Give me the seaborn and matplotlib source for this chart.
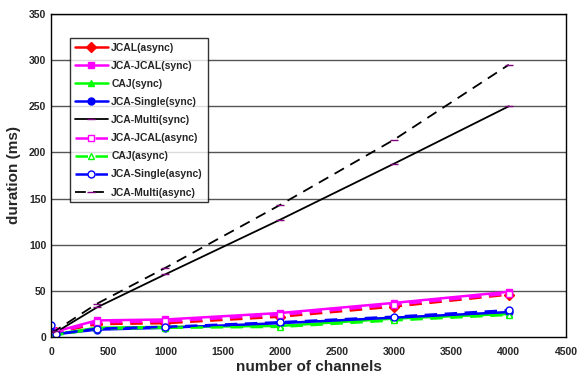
import matplotlib
matplotlib.use("Agg")
import matplotlib.pyplot as plt
import seaborn as sns
import pandas as pd

channels = [1, 40, 400, 1000, 2000, 3000, 4000]

jcal_async = [4, 5, 14, 15, 22, 33, 46]
jca_jcal_sync = [5, 6, 18, 19, 26, 37, 49]
caj_sync = [2, 3, 10, 11, 12, 20, 25]
jca_single_sync = [2, 3, 8, 10, 15, 21, 27]
jca_multi_sync = [3, 5, 32, 68, 127, 188, 250]
jca_jcal_async = [4, 5, 16, 17, 24, 35, 47]
caj_async = [1, 2, 9, 10, 11, 18, 24]
jca_single_async = [13, 3, 9, 11, 16, 22, 29]
jca_multi_async = [5, 7, 36, 75, 143, 214, 295]

series = [
    ("JCAL(async)", jcal_async, "#ff0000", "-", "D", True),
    ("JCA-JCAL(sync)", jca_jcal_sync, "#ff00ff", "-", "s", True),
    ("CAJ(sync)", caj_sync, "#00ff00", "-", "^", True),
    ("JCA-Single(sync)", jca_single_sync, "#0000ff", "-", "o", True),
    ("JCA-Multi(sync)", jca_multi_sync, "#000000", "-", "_", True),
    ("JCA-JCAL(async)", jca_jcal_async, "#ff00ff", "--", "s", False),
    ("CAJ(async)", caj_async, "#00ff00", "--", "^", False),
    ("JCA-Single(async)", jca_single_async, "#0000ff", "--", "o", False),
    ("JCA-Multi(async)", jca_multi_async, "#000000", "--", "_", False),
]
# the red JCAL series is drawn dashed in the plot but listed with a solid key
dashed_names = {"JCAL(async)"}

sns.set_style("white")
plt.rcParams["font.family"] = ["Liberation Sans", "DejaVu Sans"]
plt.rcParams["font.weight"] = "bold"

fig = plt.figure(figsize=(5.77, 3.76), dpi=100)
ax = fig.add_axes([0.0884, 0.1037, 0.8926, 0.8591])

for y in range(50, 351, 50):
    ax.axhline(y, color="#555555", lw=1.0, zorder=0)

for name, vals, color, ls, mk, filled in series:
    df = pd.DataFrame({"channels": channels, "duration": vals})
    black = color == "#000000"
    sns.lineplot(
        data=df, x="channels", y="duration", ax=ax, color=color,
        marker=mk, markersize=5 if not black else 6,
        markerfacecolor=(color if filled else "white") if not black else "#800080",
        markeredgecolor=color if not black else "#800080",
        markeredgewidth=1.0,
        lw=1.3 if black else 1.8,
        label=name, errorbar=None,
    )
    line = ax.lines[-1]
    if ls == "--" or name in dashed_names:
        line.set_dashes((5, 3) if not black else (6, 4))

ax.set_xlim(0, 4500)
ax.set_ylim(0, 350)
ax.set_xticks(range(0, 4501, 500))
ax.set_yticks(range(0, 351, 50))
ax.tick_params(axis="both", labelsize=7.5, direction="in", length=3, width=1)
ax.tick_params(axis="x", pad=7)
for lab in ax.get_xticklabels() + ax.get_yticklabels():
    lab.set_fontweight("bold")
ax.set_xlabel("number of channels", fontsize=11, fontweight="bold", labelpad=2)
ax.set_ylabel("duration (ms)", fontsize=11, fontweight="bold", labelpad=6)
for sp in ax.spines.values():
    sp.set_color("black")
    sp.set_linewidth(1.0)

leg = ax.legend(loc="upper left", bbox_to_anchor=(0.037, 0.926), fontsize=7.5,
                frameon=True, fancybox=False, edgecolor="black",
                handlelength=3.2, labelspacing=0.78, borderpad=0.45,
                handletextpad=0.3, borderaxespad=0)
leg.get_frame().set_linewidth(1.0)
for t in leg.get_texts():
    t.set_fontweight("bold")
# solid key for the red series
leg.legend_handles[0].set_linestyle("-")

fig.savefig("out.png", dpi=100)
